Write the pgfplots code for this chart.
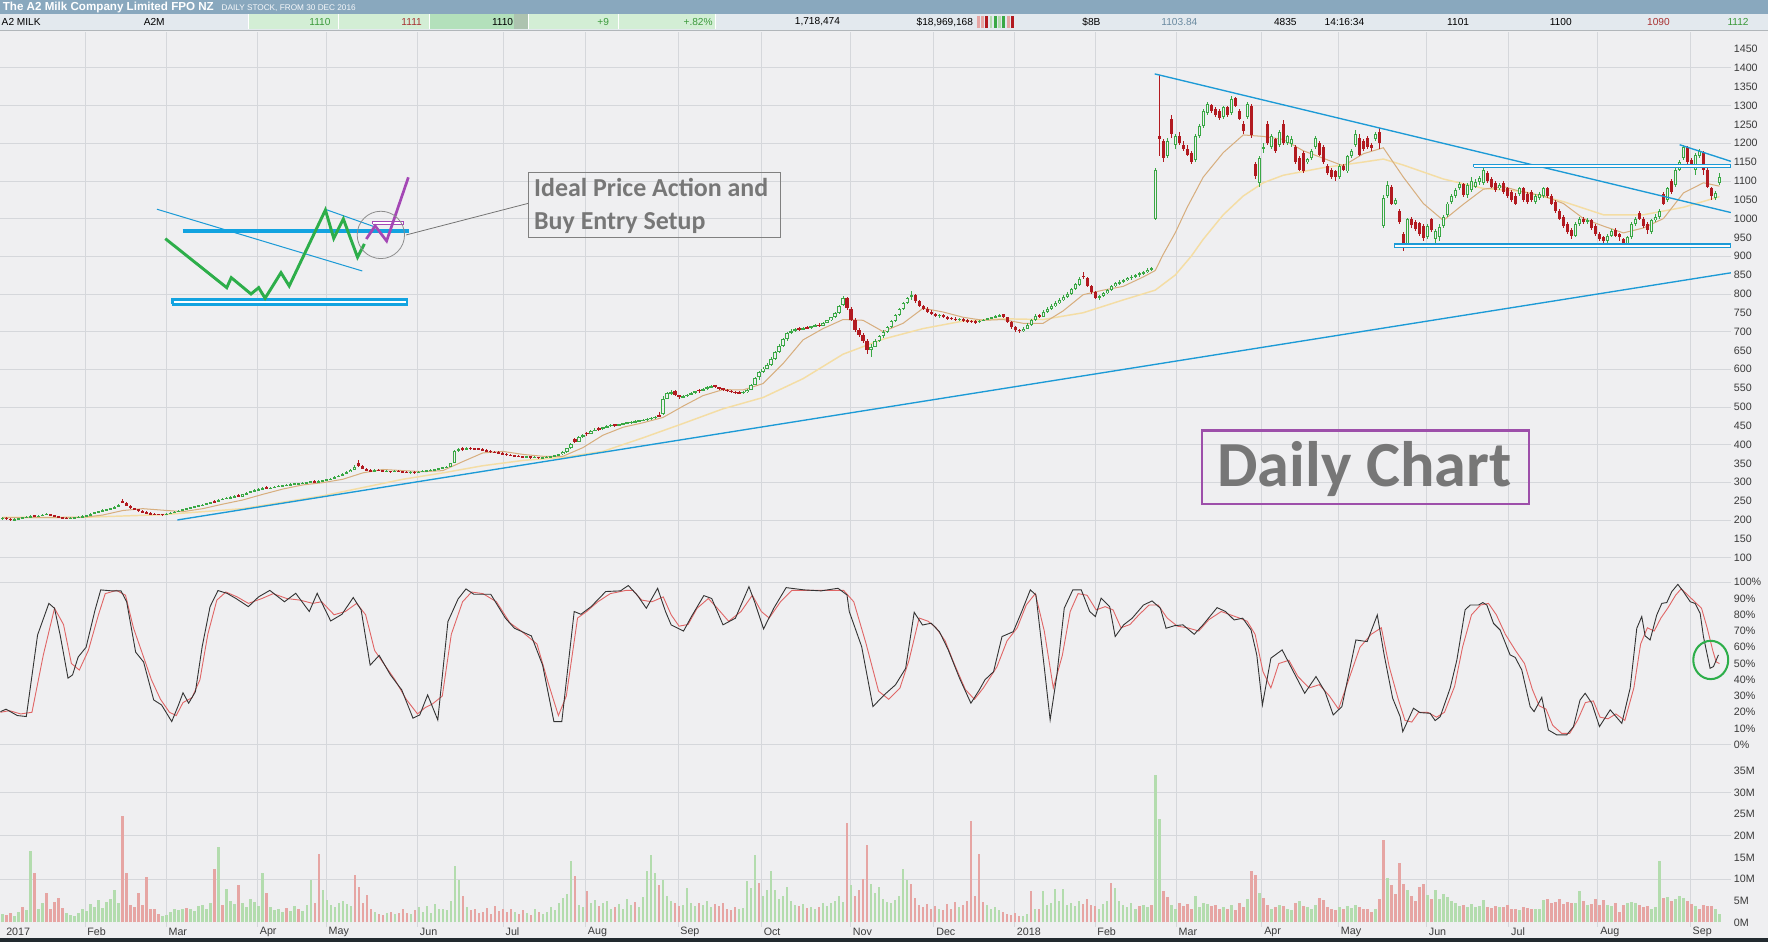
\documentclass[border=0pt]{standalone}
\usepackage{pgfplots}
\pgfplotsset{compat=1.18}
\usepackage{pgfplotstable}
\usepackage{fontspec}
\setmainfont{Liberation Sans}
\newfontfamily\carlito{Carlito}
\definecolor{bg}{HTML}{EFEFF1}
\definecolor{gridc}{HTML}{D5D7DB}
\definecolor{cgreen}{HTML}{3AA845}
\definecolor{cred}{HTML}{B21A20}
\definecolor{matan}{HTML}{D7AE7E}
\definecolor{mayel}{HTML}{F4DDA4}
\definecolor{tblue}{HTML}{1C9AD6}
\definecolor{barblue}{HTML}{12A3E0}
\definecolor{zgreen}{HTML}{2DAE4A}
\definecolor{zpurp}{HTML}{A447B5}
\definecolor{boxpurp}{HTML}{9D4FAA}
\definecolor{vgreen}{HTML}{B3DCAE}
\definecolor{vred}{HTML}{E6A5A3}
\definecolor{kline}{HTML}{333333}
\definecolor{dline}{HTML}{E06666}
\definecolor{labc}{HTML}{3A3A3A}
\definecolor{hdr}{HTML}{89A8BE}
\definecolor{hdrtwo}{HTML}{E3E9EE}
\definecolor{cellg}{HTML}{D3EED5}
\definecolor{cellgd}{HTML}{B3E0BB}
\definecolor{txtgray}{HTML}{777777}
\definecolor{hgreen}{HTML}{3C9A3C}
\definecolor{hred}{HTML}{A83232}
\definecolor{hsteel}{HTML}{6A8AA0}

\pgfplotstableread{
d o h l c v
0 204 207 201 205 2.0
1 206 207 201 203 -1.8
2 203 204 198 200 -2.2
3 200 204 199 202 1.6
4 202 206 201 204 2.4
5 205 207 203 206 -3.5
6 206 210 205 208 2.8
7 208 212 207 210 16.5
8 212 214 208 209 -11.4
9 209 213 208 211 3.2
10 211 216 210 214 4.5
11 214 218 213 216 -6.8
12 216 217 211 212 -3.0
13 212 213 207 209 -4.8
14 209 210 205 207 -5.6
15 207 209 203 205 -3.4
16 205 207 202 204 2.3
17 204 208 203 206 1.8
18 206 209 205 207 1.5
19 207 210 206 208 2.2
20 208 212 207 210 3.0
21 210 214 209 212 2.6
22 212 218 211 216 4.2
23 216 222 215 220 3.6
24 220 225 219 223 5.2
25 223 228 221 226 3.3
26 226 230 224 228 4.8
27 228 233 227 231 5.5
28 231 237 230 235 7.5
29 235 243 234 240 4.6
30 250 256 244 246 -24.5
31 246 248 236 238 -11.4
32 238 240 230 232 -4.0
33 232 233 226 228 -3.5
34 228 230 222 224 -6.8
35 224 226 219 220 -4.0
36 221 223 216 218 -10.6
37 218 220 214 216 -3.0
38 216 218 213 215 -3.2
39 216 217 212 215 -2.0
40 215 217 211 214 1.5
41 214 218 213 216 1.8
42 216 221 215 219 2.5
43 219 224 218 222 3.0
44 222 227 221 225 2.8
45 225 230 224 228 3.2
46 228 233 227 231 -3.4
47 231 235 229 233 3.0
48 233 238 232 236 2.6
49 236 240 234 238 3.8
50 238 243 237 241 4.0
51 241 246 240 244 3.2
52 244 249 243 247 4.5
53 250 253 245 248 -12.3
54 249 255 248 253 17.5
55 253 258 252 256 -4.0
56 256 261 255 258 7.7
57 258 263 257 261 5.0
58 261 265 259 263 4.2
59 266 268 260 262 -8.7
60 262 270 261 268 4.5
61 268 274 267 272 3.6
62 272 277 271 276 5.5
63 276 281 275 279 4.8
64 279 284 278 282 3.7
65 282 287 280 285 11.4
66 287 289 281 283 -6.8
67 283 288 282 286 3.5
68 286 290 285 288 2.8
69 288 292 287 290 3.0
70 290 293 288 292 2.5
71 292 295 289 293 -3.4
72 293 297 292 295 2.7
73 295 298 293 296 3.9
74 296 299 294 297 -3.2
75 297 300 295 298 2.6
76 298 302 297 300 4.0
77 300 304 299 302 9.7
78 303 305 299 301 -4.5
79 301 305 300 303 -15.9
80 303 307 302 305 7.5
81 305 309 304 307 5.2
82 307 312 306 310 4.0
83 310 316 309 314 3.5
84 314 320 313 318 4.6
85 318 325 317 322 5.0
86 322 330 321 327 4.2
87 327 336 326 333 3.8
88 333 345 332 341 -11.0
89 352 360 340 344 -8.3
90 344 346 334 336 -4.5
91 336 338 329 331 -6.4
92 331 334 327 330 -3.0
93 330 334 328 332 2.4
94 332 335 329 331 -2.0
95 331 333 327 329 -1.8
96 329 332 326 330 2.2
97 330 331 326 328 -2.5
98 328 332 327 330 1.9
99 330 332 327 329 -2.3
100 329 331 325 328 -3.0
101 328 330 324 326 -2.2
102 326 329 323 327 2.0
103 327 329 322 325 -2.8
104 325 329 324 328 3.5
105 328 332 327 330 2.4
106 330 333 328 331 3.8
107 331 334 329 332 2.1
108 332 336 330 334 4.2
109 334 338 333 337 3.1
110 337 341 335 339 3.2
111 339 343 337 341 2.8
112 341 352 340 350 5.0
113 352 386 351 382 13.1
114 383 392 380 388 9.7
115 390 393 384 386 -6.0
116 387 393 385 391 3.5
117 391 394 387 390 -2.8
118 390 392 386 389 -3.0
119 389 392 385 388 -2.2
120 388 390 383 385 -2.5
121 385 388 381 383 -3.4
122 383 386 379 381 -2.0
123 381 384 377 379 -3.8
124 379 382 375 377 -2.6
125 377 380 373 375 -3.0
126 375 378 371 373 -2.4
127 373 376 369 371 -3.2
128 371 373 367 370 2.5
129 370 372 366 369 -2.0
130 369 371 365 367 -2.8
131 367 370 364 368 2.2
132 368 369 363 366 -1.8
133 366 369 364 367 3.0
134 367 368 362 365 -2.5
135 365 368 363 366 2.0
136 366 369 364 367 2.4
137 367 371 366 369 3.5
138 369 373 367 371 2.8
139 371 376 370 374 4.5
140 374 382 373 380 5.6
141 380 392 379 390 6.5
142 390 404 389 401 14.3
143 415 418 403 408 -10.8
144 408 424 407 420 4.0
145 420 428 418 425 3.5
146 432 434 424 428 -7.2
147 428 440 427 437 4.6
148 437 444 435 440 5.2
149 442 446 436 441 -3.8
150 441 448 440 446 4.4
151 446 452 444 450 5.0
152 450 454 447 452 3.2
153 454 456 448 450 -3.6
154 450 456 449 454 4.2
155 454 458 451 456 3.0
156 456 461 455 459 5.5
157 459 463 456 460 4.0
158 460 465 458 462 -4.8
159 462 466 460 464 3.5
160 464 468 462 466 5.8
161 466 470 463 468 11.8
162 468 473 466 471 15.6
163 471 476 469 474 11.4
164 478 486 472 476 -8.7
165 480 528 478 522 9.7
166 522 540 520 536 6.0
167 536 545 532 540 5.0
168 542 544 528 531 -4.5
169 531 533 522 526 -3.8
170 526 532 524 529 4.0
171 529 535 527 533 7.9
172 533 539 531 537 4.5
173 537 543 535 541 3.8
174 545 547 538 543 -4.6
175 543 550 541 548 4.0
176 548 555 546 552 5.0
177 552 558 550 555 3.5
178 557 559 550 552 -4.2
179 552 554 546 549 -3.8
180 549 551 542 545 -4.5
181 545 548 540 543 -3.2
182 543 546 537 540 -2.8
183 540 543 535 538 -3.5
184 538 541 534 537 3.0
185 537 542 535 540 3.3
186 540 548 538 546 9.5
187 546 562 545 559 8.0
188 559 580 557 576 15.6
189 580 596 572 592 -9.2
190 592 605 589 602 6.0
191 602 616 600 612 7.5
192 612 632 610 628 12.0
193 628 648 625 645 7.5
194 645 666 643 662 5.5
195 662 684 660 680 6.0
196 680 700 676 695 8.3
197 697 706 693 702 5.0
198 702 710 699 706 4.0
199 709 712 702 705 -3.8
200 705 713 703 710 4.2
201 712 715 706 709 -3.4
202 709 716 707 714 3.5
203 714 719 711 716 3.0
204 718 722 713 716 -3.6
205 716 726 714 724 4.4
206 724 732 722 730 3.8
207 730 740 728 738 4.5
208 738 752 736 749 5.0
209 749 770 747 767 6.0
210 770 795 768 790 4.8
211 790 792 758 762 -23.0
212 760 764 728 732 8.7
213 732 736 700 705 -6.0
214 705 710 685 690 -7.5
215 692 696 670 676 -10.0
216 676 680 640 652 -18.0
217 652 668 632 660 9.0
218 660 680 658 676 6.8
219 676 692 672 688 8.3
220 688 704 684 700 5.5
221 700 716 697 712 4.8
222 712 732 710 728 4.5
223 728 748 726 745 5.2
224 745 763 742 760 6.0
225 760 778 757 775 12.3
226 775 793 772 790 9.8
227 792 808 785 796 -9.0
228 796 800 776 780 -5.6
229 780 784 764 768 -4.0
230 768 771 756 760 -3.5
231 760 764 749 752 -4.2
232 752 756 743 746 -3.0
233 746 750 739 742 -3.8
234 742 747 737 744 3.2
235 744 746 735 738 -2.8
236 738 742 732 736 -4.2
237 736 739 730 734 -3.0
238 734 738 728 732 -4.8
239 732 736 727 733 3.5
240 733 735 725 730 -4.0
241 730 733 724 728 -5.0
242 728 731 722 727 -23.5
243 727 730 721 726 -6.0
244 726 732 724 729 -15.9
245 729 734 727 732 -4.8
246 732 737 730 735 4.0
247 735 740 733 738 3.0
248 738 744 736 741 3.5
249 741 746 739 743 2.8
250 746 748 736 738 -2.5
251 738 740 722 725 -2.0
252 725 727 708 712 -1.8
253 712 715 700 705 -2.2
254 705 708 696 702 -1.5
255 702 712 700 708 1.6
256 708 722 706 718 2.0
257 718 734 716 730 -7.3
258 730 746 728 742 3.2
259 745 748 735 740 -3.0
260 740 756 738 752 7.2
261 752 764 750 760 4.0
262 760 772 758 768 4.5
263 768 780 766 775 7.7
264 775 788 773 783 5.0
265 783 796 781 792 7.7
266 792 804 790 800 4.0
267 800 816 798 812 4.5
268 812 830 810 825 3.8
269 825 845 822 840 5.0
270 848 858 840 845 -4.2
271 842 846 818 822 -5.5
272 822 824 800 804 -4.0
273 804 808 786 790 -3.8
274 790 798 784 795 3.0
275 795 806 792 802 4.2
276 802 814 800 810 5.0
277 810 824 808 820 -9.1
278 820 832 818 828 7.9
279 828 836 824 832 5.0
280 832 840 828 836 4.0
281 836 845 834 842 3.5
282 842 850 838 846 4.5
283 846 854 842 850 3.0
284 850 858 846 855 -3.8
285 855 862 851 858 4.0
286 858 868 855 864 3.5
287 864 872 860 868 -4.0
288 1000 1135 995 1130 34
289 1220 1380 1165 1212 24
290 1205 1210 1150 1160 -7.3
291 1165 1215 1160 1205 -5.8
292 1265 1275 1215 1225 4.0
293 1195 1225 1185 1220 3.2
294 1220 1230 1195 1200 -4.5
295 1195 1205 1180 1185 -3.8
296 1185 1195 1165 1170 -4.2
297 1175 1180 1145 1150 -3.0
298 1155 1225 1150 1220 6.0
299 1220 1250 1215 1245 3.5
300 1245 1290 1240 1285 4.5
301 1280 1310 1275 1305 4.2
302 1302 1305 1280 1285 -3.8
303 1290 1295 1270 1275 -4.0
304 1285 1292 1262 1268 -3.0
305 1270 1300 1265 1295 3.5
306 1295 1300 1270 1275 -3.2
307 1280 1325 1275 1318 4.0
308 1320 1322 1295 1300 -2.8
309 1285 1290 1262 1265 -4.4
310 1250 1260 1225 1232 -3.5
311 1270 1310 1265 1305 5.5
312 1300 1305 1215 1222 -11.8
313 1145 1150 1105 1112 -11.0
314 1095 1165 1085 1160 6.8
315 1185 1200 1175 1190 -5.6
316 1250 1260 1195 1200 -4.0
317 1190 1225 1185 1220 3.0
318 1212 1215 1175 1180 -3.5
319 1195 1235 1190 1230 4.0
320 1250 1262 1195 1200 -3.8
321 1200 1222 1195 1218 3.0
322 1198 1218 1190 1212 2.8
323 1190 1195 1145 1150 -4.5
324 1160 1165 1125 1130 4.9
325 1175 1180 1120 1125 -3.8
326 1150 1162 1145 1158 3.5
327 1160 1185 1155 1180 3.2
328 1190 1220 1185 1215 4.0
329 1200 1205 1165 1170 -5.6
330 1190 1195 1145 1150 -5.2
331 1140 1145 1115 1120 -3.5
332 1130 1135 1105 1110 -3.0
333 1125 1130 1100 1110 -2.8
334 1110 1145 1105 1140 3.5
335 1140 1145 1125 1130 -3.2
336 1125 1170 1120 1165 3.8
337 1165 1185 1160 1180 3.4
338 1195 1235 1190 1225 4.0
339 1215 1225 1165 1170 -3.5
340 1205 1210 1180 1185 -3.0
341 1215 1220 1185 1190 -3.2
342 1195 1200 1180 1188 -2.5
343 1210 1230 1205 1225 3.0
344 1230 1240 1185 1200 -5.5
345 980 1062 975 1055 -19.0
346 1060 1100 1055 1090 10.2
347 1085 1090 1035 1040 -8.7
348 1040 1055 1035 1048 -6.5
349 1020 1025 985 990 -13.7
350 960 965 915 925 -9.0
351 930 1002 925 998 7.5
352 1000 1005 975 982 -6.0
353 990 995 968 972 -5.0
354 988 992 955 960 -8.3
355 980 985 940 948 -8.9
356 950 985 945 980 6.4
357 998 1002 965 970 -5.5
358 945 972 935 968 7.5
359 950 985 940 978 5.5
360 980 1010 975 1005 6.5
361 1010 1045 1005 1040 5.8
362 1045 1065 1040 1060 5.0
363 1060 1080 1055 1075 4.5
364 1080 1098 1075 1092 3.8
365 1092 1095 1058 1062 -4.0
366 1062 1095 1055 1090 3.5
367 1075 1110 1070 1100 4.2
368 1085 1105 1080 1098 3.6
369 1098 1112 1090 1108 3.8
370 1095 1142 1090 1130 5.2
371 1120 1125 1095 1100 -3.6
372 1105 1110 1080 1085 -3.4
373 1095 1100 1070 1075 -3.8
374 1080 1095 1075 1090 3.5
375 1095 1100 1065 1070 -3.6
376 1080 1085 1055 1060 -4.0
377 1070 1075 1045 1050 -3.2
378 1060 1068 1035 1040 -3.0
379 1065 1085 1060 1080 2.8
380 1080 1085 1045 1050 -3.5
381 1065 1070 1040 1045 -3.4
382 1070 1075 1045 1050 -3.0
383 1045 1065 1040 1060 3.0
384 1055 1070 1050 1065 3.2
385 1060 1085 1055 1080 5.2
386 1080 1085 1055 1060 -5.5
387 1060 1065 1035 1040 -4.5
388 1045 1050 1015 1020 -4.8
389 1020 1025 995 1000 -5.4
390 1005 1010 975 980 -4.2
391 985 990 960 965 -4.8
392 970 975 945 955 -4.6
393 955 990 950 985 4.5
394 985 1005 980 1000 7.2
395 1000 1005 985 990 -5.0
396 990 1002 985 995 4.0
397 995 1000 970 975 -4.2
398 980 985 955 960 -5.5
399 960 965 940 945 -4.0
400 950 955 935 940 -5.2
401 940 960 930 955 4.0
402 955 972 950 968 3.8
403 970 975 950 955 -4.5
404 960 962 940 950 -2.5
405 945 948 922 930 -4.0
406 930 955 925 950 4.4
407 950 990 945 985 4.8
408 985 1005 980 1000 4.5
409 1015 1020 995 1000 -4.0
410 1000 1005 975 980 -3.5
411 985 990 960 970 -3.8
412 965 1000 960 995 3.0
413 995 1012 990 1005 3.6
414 1005 1025 1000 1020 14.3
415 1065 1070 1035 1040 -5.6
416 1050 1085 1045 1080 5.8
417 1100 1105 1065 1070 -5.0
418 1090 1135 1085 1130 5.5
419 1130 1155 1125 1150 6.0
420 1160 1195 1155 1190 5.6
421 1190 1192 1145 1150 -5.0
422 1155 1160 1140 1145 -4.2
423 1130 1175 1115 1170 3.8
424 1165 1185 1160 1180 -3.0
425 1175 1180 1115 1130 -4.0
426 1130 1135 1080 1085 -3.8
427 1080 1085 1050 1060 -3.8
428 1055 1072 1050 1068 3.0
429 1095 1120 1090 1110 2.0
}\pricedata

\pgfplotstableread{
d m
0 206
10 206
20 207
25 213
30 225
35 230
40 226
45 222
50 230
55 242
60 253
65 268
70 282
75 293
80 299
85 308
90 325
95 334
100 331
105 328
110 331
115 355
120 378
125 382
130 374
135 369
140 369
145 392
150 425
155 446
160 458
165 472
170 502
175 530
180 546
185 545
190 562
195 615
200 678
205 708
210 732
215 730
220 700
225 722
230 762
235 752
240 738
245 730
250 732
255 722
260 722
265 755
270 798
275 810
280 820
285 845
288 862
290 905
293 962
296 1030
300 1110
305 1175
310 1222
315 1218
320 1210
325 1180
330 1160
335 1140
340 1172
345 1188
350 1110
355 1040
360 995
365 1038
370 1078
375 1085
380 1070
385 1060
390 1040
395 1000
400 980
405 962
410 975
415 1000
420 1068
425 1095
429 1086
}\maTan

\pgfplotstableread{
d m
0 207
20 207
40 214
60 230
80 264
100 308
110 325
120 344
130 358
140 366
150 382
160 418
170 456
180 495
190 525
200 575
210 640
220 680
230 708
240 728
250 734
260 732
270 750
280 784
288 810
293 850
297 900
300 945
305 1010
310 1060
315 1095
320 1115
330 1135
340 1150
345 1158
350 1142
360 1105
370 1080
380 1072
390 1045
400 1010
410 1010
420 1030
429 1058
}\maYel

\pgfplotstableread{
x k
0 20.4
5 21.9
15 18
23 17.4
33 67.6
43 87
48 84
53 67.6
60 41
64 43
69 54
76 60
84 83
89 95.3
99 94.7
107 94.7
112 88
120 57
127 51
136 27.6
143 24.5
152 14.3
158 24.5
162 32
167 25.6
173 32.7
179 60.4
186 85
193 94.9
201 93.2
209 90
220 85
229 91
239 95
252 88
262 93.2
274 82
281 93.2
293 76.2
303 80.3
313 90.6
320 83
328 49
336 55
346 43
356 33.8
366 16.4
372 18.4
379 30.7
388 15.3
397 75.8
406 89.7
413 95.9
420 92.6
435 92.6
448 77.9
456 71.7
471 67
481 49
491 14.3
498 14.3
509 82
515 80.3
524 85
537 94.3
550 94.7
557 98
565 92
573 84
583 96.3
590 82
595 73.8
606 70
613 78.9
624 91.8
631 90
641 73.8
652 77.9
664 97.3
669 88
677 71.3
686 84
697 96.7
713 95.3
728 94.7
743 96.3
751 92.2
753 82
764 60.4
774 23.5
784 30.7
794 36.9
803 47
810.6 81.5
818 73.7
825.7 74.8
833 69.6
840.8 58.4
850.8 41
860.9 25.6
868.4 33.8
873.4 40
881 45
888.5 66.6
898.5 69.6
906 82
913.6 95.3
918.6 92.2
926.1 47
931.2 15.3
937.2 43
943.7 84
951.3 95.3
958.8 95.3
966.3 82
971.3 78.9
976.4 90.2
984 85
988.9 66.6
996.4 73.8
1004 77.9
1014 86
1021.6 88.5
1029 84
1034 71.7
1041.6 73.3
1049 73.8
1059 68
1066.8 73.8
1079.3 84.4
1086.8 82
1094.4 76.8
1102 77.9
1109.4 70.7
1114.5 55.3
1119.5 24.5
1127 53.3
1137 58.4
1147 45
1157 31.7
1167 42
1175 32.7
1182.3 18.4
1190 23.5
1202.4 64.5
1212.4 63.5
1221.4 79.9
1227.5 55.3
1235 28.7
1241.7 17.3
1244 8.1
1253.5 22.5
1259.4 19.8
1268.3 19.4
1272.7 14.9
1277.2 17.3
1286 34.8
1292 52.2
1299.3 83
1303.8 86
1311.2 86
1315 87.5
1318.6 86
1324.5 74.7
1330.4 70.6
1339.2 55.3
1343.7 53.8
1349.6 46
1357 23.5
1360.5 20.4
1367.3 29.2
1373.2 9.1
1380.6 6.1
1389.5 6.1
1395.4 11.2
1401.3 27.6
1405.8 31.7
1411.7 25.6
1418.5 11.2
1428 21.5
1438.3 13.2
1445.7 34.8
1451.6 71.7
1456 78.9
1459 67
1463.4 64.5
1469.3 79.9
1473.8 87
1478.2 87.5
1482.6 94.2
1488 98.7
1493 94.2
1499 88
1503.3 87
1507.8 80.9
1510.7 66.6
1516.6 47.1
1519.6 48.1
1524 55.3
}\stochK

\pgfplotstableread{
x k
0 20
8 21
18 19
28 20
38 55
48 84
56 74
63 50
70 46
78 58
87 80
93 93
103 95
111 92
118 72
126 56
134 40
142 28
150 20
156 18
162 26
170 29
177 40
184 68
192 89
200 94
210 91
220 87
232 90
242 93
254 90
266 89
277 87
285 88
296 80
306 82
316 87
324 80
332 58
340 50
350 40
360 28
370 19
377 23
383 25
392 30
400 68
410 88
418 94
428 93
440 88
452 75
462 70
476 62
486 38
495 18
502 30
512 78
520 82
530 88
541 93
555 95
561 95
569 89
578 88
588 91
595 80
602 73
610 74
618 84
628 90
636 84
646 76
657 82
667 92
675 82
682 78
692 88
702 95
718 95
733 95
748 95
757 88
768 62
779 33
788 28
798 35
806 52
815 78
823 76
830 72
838 64
846 50
856 34
864 28
872 35
884 48
893 64
902 72
910 86
918 93
926 70
934 35
942 55
949 82
956 93
964 92
972 83
980 85
987 83
994 72
1002 74
1010 80
1019 86
1027 86
1035 78
1044 73
1053 72
1063 70
1072 77
1083 82
1091 80
1099 78
1106 76
1113 68
1120 45
1127 35
1134 50
1143 52
1151 42
1161 35
1170 37
1179 30
1187 22
1196 40
1206 60
1216 68
1225 72
1232 48
1240 28
1246 15
1252 14
1258 20
1266 20
1274 17
1281 20
1290 36
1297 60
1305 80
1313 86
1320 87
1327 80
1335 68
1344 58
1352 50
1359 34
1365 24
1371 22
1377 12
1385 7
1392 7
1399 15
1406 26
1413 27
1419 17
1426 16
1433 19
1441 15
1449 35
1455 62
1461 72
1467 70
1473 78
1479 84
1486 92
1491 96
1497 92
1503 88
1509 84
1514 72
1519 58
1522 51
1525 50
}\stochD

\pgfplotsset{
  /pgf/number format/assume math mode=true,
  /pgf/number format/1000 sep={},
  panel/.style={
    scale only axis, width=1535pt, xmin=0, xmax=1535, anchor=south west,
    axis line style={draw=none}, major tick length=0pt, minor tick length=0pt,
    xtick={75,147,228,289,370,446,519,601,675,754,828,899.5,971,1043,1119,1187,1265,1338,1417,1499},
    xmajorgrids, ymajorgrids=false, yminorgrids,
    grid style={draw=gridc, line width=0.7pt},
    minor grid style={draw=gridc, line width=0.7pt},
    yticklabel pos=right,
    yticklabel style={font=\fontsize{9.5}{10}\selectfont, text=labc, anchor=west, inner sep=0pt, xshift=2.5pt},
    xticklabel style={font=\fontsize{9.5}{10}\selectfont, text=labc, anchor=west, inner sep=0pt, xshift=2pt, yshift=-4.5pt},
  },
  nox/.style={xticklabels={}, xticklabel style={opacity=0}},
  candle/.style={draw=none, mark=none, forget plot, restrict y to domain=0:3000,
    error bars/.cd, y dir=both, y explicit, error mark=none},
}

\begin{document}
\begin{tikzpicture}
\begin{scope}[x=1pt,y=1pt]
\useasboundingbox (0,0) rectangle (1568,836);
\fill[bg] (0,0) rectangle (1568,836);
% header bar 1
\fill[hdr] (0,823.6) rectangle (1568,836);
\node[anchor=west, inner sep=0, text=white, font=\fontsize{10.3}{11}\selectfont\bfseries] at (2,829.6) {The A2 Milk Company Limited FPO NZ};
\node[anchor=west, inner sep=0, text=white!92!hdr, font=\fontsize{7.3}{8}\selectfont] at (196,829.2) {DAILY STOCK, FROM 30 DEC 2016};
% header bar 2
\fill[hdrtwo] (0,809.4) rectangle (1568,823.6);
\fill[cellg] (220,809.9) rectangle (381,823.4);
\fill[cellgd] (381,809.9) rectangle (456,823.4);
\fill[black!18!cellg] (456,809.9) rectangle (468,823.4);
\fill[cellg] (468,809.9) rectangle (634,823.4);
\foreach \sx in {220,300,381,468,548,634} {\draw[white, line width=0.8pt] (\sx,809.9) -- (\sx,823.4);}
\draw[black!22!hdrtwo, line width=0.8pt] (0,809.4) -- (1568,809.4);
\begin{scope}[every node/.style={inner sep=0, font=\fontsize{9}{10}\selectfont}]
\node[anchor=west] at (1,816.5) {A2 MILK};
\node[anchor=west] at (127,816.5) {A2M};
\node[anchor=east, text=hgreen] at (293,816.5) {1110};
\node[anchor=east, text=hred] at (374,816.5) {1111};
\node[anchor=east] at (455,816.5) {1110};
\node[anchor=east, text=hgreen] at (540,816.5) {+9};
\node[anchor=east, text=hgreen] at (632,816.5) {+.82\%};
\node[anchor=east] at (745,816.5) {1,718,474};
\node[anchor=east] at (863,816.5) {\$18,969,168};
\node[anchor=east] at (976,816.5) {\$8B};
\node[anchor=east, text=hsteel] at (1062,816.5) {1103.84};
\node[anchor=east] at (1150,816.5) {4835};
\node[anchor=east] at (1210,816.5) {14:16:34};
\node[anchor=east] at (1303,816.5) {1101};
\node[anchor=east] at (1394,816.5) {1100};
\node[anchor=east, text=hred] at (1481,816.5) {1090};
\node[anchor=east, text=hgreen] at (1551,816.5) {1112};
\end{scope}
\foreach \bx/\bc in {866/vred,869.8/vred,873.6/cred,877.4/vgreen,881.2/cgreen,885/vgreen,888.8/cgreen,892.6/vred,896.4/cred} {\fill[\bc] (\bx,811.5) rectangle ++(2.6,10);}
% bottom strip
\fill[black!75!hdr] (0,0) rectangle (1568,4);
\end{scope}

% ================= PRICE PANEL =================
\begin{axis}[panel, nox, at={(0pt,328pt)}, height=480pt, ymin=60.1, ymax=1496.4,
  ytick={100,150,...,1450}, minor ytick={100,200,...,1400}]
\addplot[mayel, line width=1.3pt, forget plot] table[x expr=2+3.55*\thisrow{d}, y=m]{\maYel};
\addplot[matan, line width=0.9pt, forget plot] table[x expr=2+3.55*\thisrow{d}, y=m]{\maTan};
% green candles: wick, body, hollow interior
\addplot[candle, error bar style={draw=cgreen, line width=0.8pt}]
  table[x expr=2+3.55*\thisrow{d}, y expr={(\thisrow{c}>=\thisrow{o}) ? ((\thisrow{h}+\thisrow{l})/2) : (-1000)}, y error expr=(\thisrow{h}-\thisrow{l})/2]{\pricedata};
\addplot[candle, error bar style={draw=cgreen, line width=2.8pt}]
  table[x expr=2+3.55*\thisrow{d}, y expr={(\thisrow{c}>=\thisrow{o}) ? ((\thisrow{o}+\thisrow{c})/2) : (-1000)}, y error expr={max(abs(\thisrow{c}-\thisrow{o})/2,1.5)}]{\pricedata};
\addplot[candle, error bar style={draw=bg, line width=1.1pt}]
  table[x expr=2+3.55*\thisrow{d}, y expr={(\thisrow{c}>=\thisrow{o}) ? ((\thisrow{o}+\thisrow{c})/2) : (-1000)}, y error expr={max(abs(\thisrow{c}-\thisrow{o})/2-2.6,0)}]{\pricedata};
% red candles
\addplot[candle, error bar style={draw=cred, line width=0.8pt}]
  table[x expr=2+3.55*\thisrow{d}, y expr={(\thisrow{c}<\thisrow{o}) ? ((\thisrow{h}+\thisrow{l})/2) : (-1000)}, y error expr=(\thisrow{h}-\thisrow{l})/2]{\pricedata};
\addplot[candle, error bar style={draw=cred, line width=2.8pt}]
  table[x expr=2+3.55*\thisrow{d}, y expr={(\thisrow{c}<\thisrow{o}) ? ((\thisrow{o}+\thisrow{c})/2) : (-1000)}, y error expr={max(abs(\thisrow{c}-\thisrow{o})/2,1.5)}]{\pricedata};
% trend lines and channels
\addplot[tblue, line width=1.2pt, forget plot] coordinates {(157,200) (1535,856)};
\addplot[tblue, line width=1.2pt, forget plot] coordinates {(1024,1384) (1535,1016)};
\addplot[tblue, line width=1.2pt, forget plot] coordinates {(1489.6,1196) (1535,1152)};
\addplot[tblue, line width=0.9pt, fill=white!75!bg, forget plot] coordinates {(1307,1136) (1535,1136) (1535,1144) (1307,1144) (1307,1136)};
\addplot[tblue, line width=0.9pt, fill=white!75!bg, forget plot] coordinates {(1236.5,922.5) (1535,922.5) (1535,932.5) (1236.5,932.5) (1236.5,922.5)};
% inset illustration
\addplot[tblue, line width=0.9pt, forget plot] coordinates {(138.9,1024.8) (321,860.9)};
\addplot[tblue, line width=0.9pt, forget plot] coordinates {(288,1024.8) (333,977)};
\addplot[barblue, line width=3.6pt, forget plot] coordinates {(161.7,966.2) (362.9,966.2)};
\addplot[barblue, line width=2pt, fill=white, forget plot] coordinates {(152.6,772) (361,772) (361,785.4) (152.6,785.4) (152.6,772)};
\addplot[zgreen, line width=2.6pt, line join=miter, forget plot] coordinates {(146.3,946.7) (200.8,816.6) (204.8,843.2) (222.3,799.8) (229.1,816.6) (234.8,788.5) (248.9,856.4) (256.2,821.1) (288.3,1022.7) (295.7,947.6) (304.2,999.1) (316.8,897.4) (322.9,932.7)};
\addplot[zpurp, line width=0.9pt, fill=white, forget plot] coordinates {(330.4,984.7) (357.9,984.7) (357.9,991.9) (330.4,991.9) (330.4,984.7)};
\addplot[zpurp, line width=2.4pt, forget plot] coordinates {(324.6,945.8) (332.4,980.6) (342.6,940.5) (361.9,1109.5)};
\draw[black!45, line width=0.7pt] (axis cs:337.5,956.6) circle[radius=21pt];
\addplot[black!55, line width=0.7pt, forget plot] coordinates {(360,956.6) (468.2,1040.4)};
\end{axis}

% ================= STOCHASTIC PANEL =================
\begin{axis}[panel, nox, at={(0pt,168pt)}, height=160pt, ymin=-5.06, ymax=105.9,
  ytick={0,10,...,100}, minor ytick={0,100},
  yticklabel={\pgfmathprintnumber{\tick}\%}]
\addplot[dline, line width=0.8pt, forget plot] table[x=x, y=k]{\stochD};
\addplot[kline, line width=0.8pt, forget plot] table[x=x, y=k]{\stochK};
\draw[zgreen, line width=1.8pt] (axis cs:1517.2,52.2) ellipse[x radius=15.5pt, y radius=17pt];
\end{axis}

% ================= VOLUME PANEL =================
\begin{axis}[panel, at={(0pt,14pt)}, height=154pt, ymin=-0.96, ymax=39.12,
  ytick={0,5,...,35}, minor ytick={10,20,30},
  yticklabel={\pgfmathprintnumber{\tick}M},
  xticklabels={Feb,Mar,Apr,May,Jun,Jul,Aug,Sep,Oct,Nov,Dec,2018,Feb,Mar,Apr,May,Jun,Jul,Aug,Sep},
  extra x ticks={3}, extra x tick labels={2017}, extra x tick style={grid=none}]
\addplot[ycomb, mark=none, draw=vgreen, line width=2.3pt, restrict y to domain=0:100, forget plot]
  table[x expr=2+3.55*\thisrow{d}, y=v]{\pricedata};
\addplot[ycomb, mark=none, draw=vred, line width=2.3pt, restrict y to domain=0:100, forget plot]
  table[x expr=2+3.55*\thisrow{d}, y expr=-\thisrow{v}]{\pricedata};
\end{axis}

% ================= ANNOTATION BOXES =================
\begin{scope}[x=1pt,y=1pt]
\draw[black!50, line width=0.8pt] (468.2,625.2) rectangle (692,682.9);
\node[anchor=base west, inner sep=0, text=txtgray, font=\carlito\bfseries\fontsize{23}{28}\selectfont] at (473.3,661.6) {Ideal Price Action and};
\node[anchor=base west, inner sep=0, text=txtgray, font=\carlito\bfseries\fontsize{23}{28}\selectfont] at (473.3,632.6) {Buy Entry Setup};
\draw[boxpurp, line width=2pt] (1066,389) rectangle (1356,454);
\node[anchor=base, inner sep=0, text=txtgray, font=\carlito\bfseries\fontsize{57}{60}\selectfont] at (1210,404) {Daily Chart};
\end{scope}
\end{tikzpicture}
\end{document}
